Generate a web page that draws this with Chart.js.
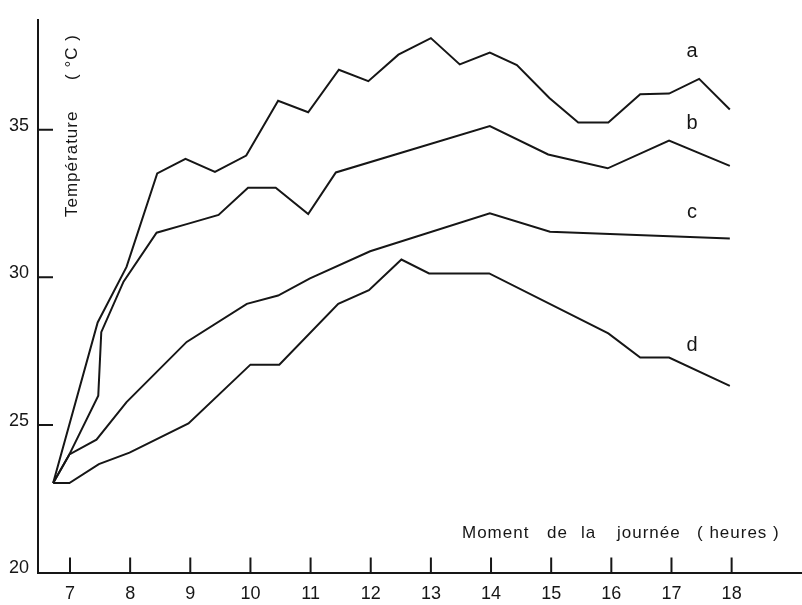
<!DOCTYPE html>
<html>
<head>
<meta charset="utf-8">
<script src="https://cdn.jsdelivr.net/npm/chart.js@4/dist/chart.umd.min.js"></script>
<style>
  html, body { margin: 0; padding: 0; background: #fff; }
  #wrap { width: 802px; height: 605px; }
</style>
</head>
<body>
<div id="wrap"><canvas id="chart" width="802" height="605"></canvas></div>
<script>
// -----------------------------
// Data (hours of the day, temperature in °C)
// -----------------------------
const hoursA = [6.72, 7.46, 7.94, 8.45, 8.92, 9.41, 9.93, 10.46, 10.96, 11.47, 11.96, 12.46, 13.0, 13.48, 13.98, 14.43, 14.97, 15.45, 15.95, 16.48, 16.96, 17.46, 17.97];
const tempA  = [23.03, 28.47, 30.35, 33.52, 34.01, 33.57, 34.12, 35.98, 35.59, 37.03, 36.64, 37.54, 38.1, 37.21, 37.61, 37.19, 36.07, 35.24, 35.24, 36.2, 36.22, 36.72, 35.68];

const hoursB = [6.72, 6.99, 7.47, 7.52, 7.89, 8.44, 8.94, 9.47, 9.96, 10.42, 10.96, 11.42, 13.98, 14.95, 15.94, 16.96, 17.97];
const tempB  = [23.03, 24.0, 25.99, 28.14, 29.85, 31.51, 31.8, 32.11, 33.03, 33.03, 32.14, 33.55, 35.12, 34.16, 33.69, 34.63, 33.77];

const hoursC = [6.72, 6.99, 7.44, 7.94, 8.94, 9.94, 10.46, 10.99, 11.99, 13.98, 14.98, 17.97];
const tempC  = [23.03, 24.0, 24.5, 25.77, 27.81, 29.1, 29.38, 29.96, 30.88, 32.17, 31.54, 31.31];

const hoursD = [6.72, 6.99, 7.48, 7.99, 8.97, 10.0, 10.48, 11.46, 11.97, 12.51, 12.97, 13.97, 15.95, 16.48, 16.96, 17.97];
const tempD  = [23.03, 23.03, 23.67, 24.06, 25.05, 27.04, 27.04, 29.1, 29.56, 30.6, 30.13, 30.13, 28.1, 27.28, 27.28, 26.32];

const seriesNames = ["a", "b", "c", "d"];
const xTicks = [7, 8, 9, 10, 11, 12, 13, 14, 15, 16, 17, 18];
const yTicks = [20, 25, 30, 35];

const ink = "#161616";
const fontFamily = "'Liberation Sans', Arial, sans-serif";

function toPoints(hours, temps) {
  return hours.map((h, i) => ({ x: h, y: temps[i] }));
}

// -----------------------------
// Inner tick marks and free text
// -----------------------------
const decorPlugin = {
  id: "decor",
  afterDraw(chart) {
    const ctx = chart.ctx;
    const xs = chart.scales.x;
    const ys = chart.scales.y;
    const area = chart.chartArea;

    ctx.save();
    ctx.strokeStyle = ink;
    ctx.lineWidth = 2;
    ctx.beginPath();
    xs.ticks.forEach(t => {
      const px = xs.getPixelForValue(t.value);
      ctx.moveTo(px, area.bottom);
      ctx.lineTo(px, area.bottom - 15);
    });
    ys.ticks.forEach(t => {
      if (t.value === yTicks[0]) return;
      const py = ys.getPixelForValue(t.value);
      ctx.moveTo(area.left, py);
      ctx.lineTo(area.left + 15, py);
    });
    ctx.stroke();

    ctx.fillStyle = ink;

    // curve letters
    ctx.font = "20px " + fontFamily;
    ctx.textAlign = "center";
    ctx.textBaseline = "alphabetic";
    const letterSpots = [[692, 57], [692, 129], [692, 218], [692, 351]];
    seriesNames.forEach((n, i) => ctx.fillText(n, letterSpots[i][0], letterSpots[i][1]));

    // x axis title
    ctx.font = "17px " + fontFamily;
    ctx.textAlign = "left";
    ctx.letterSpacing = "1px";
    const words = [["Moment", 462], ["de", 547], ["la", 581], ["journée", 617], ["( heures )", 697]];
    words.forEach(w => ctx.fillText(w[0], w[1], 538));

    // y axis title
    ctx.translate(77, 217);
    ctx.rotate(-Math.PI / 2);
    ctx.fillText("Température", 0, 0);
    ctx.fillText("( °C )", 137, 0);
    ctx.restore();
  }
};

// -----------------------------
// Chart
// -----------------------------
const ctx = document.getElementById("chart").getContext("2d");

const lineStyle = {
  borderColor: ink,
  borderWidth: 2,
  pointRadius: 0,
  tension: 0,
  fill: false
};

new Chart(ctx, {
  type: "line",
  data: {
    datasets: [
      { label: seriesNames[0], data: toPoints(hoursA, tempA), ...lineStyle },
      { label: seriesNames[1], data: toPoints(hoursB, tempB), ...lineStyle },
      { label: seriesNames[2], data: toPoints(hoursC, tempC), ...lineStyle },
      { label: seriesNames[3], data: toPoints(hoursD, tempD), ...lineStyle }
    ]
  },
  options: {
    responsive: false,
    animation: false,
    devicePixelRatio: 1,
    layout: { padding: { top: 7, right: 0, bottom: 0, left: 0 } },
    plugins: {
      legend: { display: false },
      tooltip: { enabled: false }
    },
    scales: {
      x: {
        type: "linear",
        min: 6.468,
        max: 19.17,
        afterBuildTicks: scale => { scale.ticks = xTicks.map(v => ({ value: v })); },
        afterFit: scale => { scale.height = 32.5; },
        grid: { display: false, drawTicks: false },
        border: { display: true, color: ink, width: 2 },
        ticks: {
          color: ink,
          padding: 11,
          maxRotation: 0,
          autoSkip: false,
          font: { family: fontFamily, size: 18 }
        }
      },
      y: {
        type: "linear",
        min: 20,
        max: 38.72,
        afterBuildTicks: scale => { scale.ticks = yTicks.map(v => ({ value: v })); },
        afterFit: scale => { scale.width = 38; },
        grid: { display: false, drawTicks: false },
        border: { display: true, color: ink, width: 2 },
        ticks: {
          color: ink,
          padding: 9,
          labelOffset: -4,
          font: { family: fontFamily, size: 18 }
        }
      }
    }
  },
  plugins: [decorPlugin]
});
</script>
</body>
</html>
